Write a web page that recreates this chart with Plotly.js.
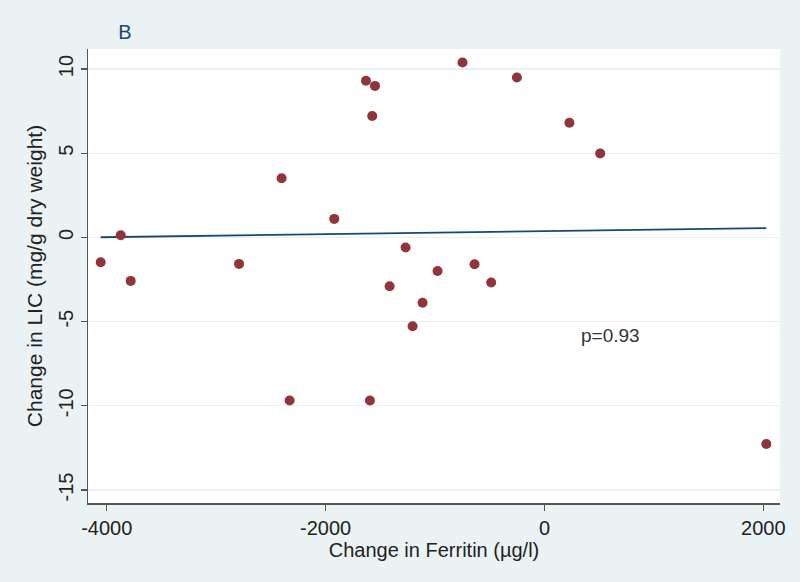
<!DOCTYPE html>
<html>
<head>
<meta charset="utf-8">
<script src="https://cdn.plot.ly/plotly-3.0.1.min.js"></script>
<style>html,body{margin:0;padding:0;background:#eaf2f3;}#chart{width:800px;height:582px;}</style>
</head>
<body>
<div id="chart"></div>
<script>
// Data
const ferritinChange = [-4055, -3872, -3781, -2791, -2402, -2329, -1921, -1631, -1549, -1574,
  -1595, -1415, -1269, -1205, -1114, -977, -749, -639, -487, -252, 228, 509, 2027];
const licChange = [-1.47, 0.13, -2.58, -1.57, 3.51, -9.68, 1.10, 9.30, 9.00, 7.21,
  -9.68, -2.90, -0.60, -5.27, -3.88, -1.99, 10.39, -1.59, -2.68, 9.50, 6.81, 4.99, -12.27];
const fitX = [-4055, 2027];
const fitY = [0.01, 0.55];
const xTicks = [-4000, -2000, 0, 2000];
const yTicks = [-15, -10, -5, 0, 5, 10];

const traces = [
  {x: fitX, y: fitY, type: 'scatter', mode: 'lines',
   line: {color: '#1a476f', width: 1.8}, hoverinfo: 'skip'},
  {x: ferritinChange, y: licChange, type: 'scatter', mode: 'markers',
   marker: {color: '#90353b', size: 10}}
];

const layout = {
  width: 800, height: 582,
  paper_bgcolor: '#eaf2f3', plot_bgcolor: '#ffffff',
  margin: {l: 88, r: 20, t: 49, b: 79},
  showlegend: false,
  font: {family: 'Liberation Sans, Arial, sans-serif', color: '#222'},
  title: {text: 'B', x: 125 / 800, xref: 'container', xanchor: 'center',
          y: 32 / 582, yref: 'container', yanchor: 'middle',
          font: {size: 20, color: '#1a476f'}},
  xaxis: {
    range: [-4171, 2152], tickvals: xTicks, ticktext: xTicks.map(String),
    showgrid: false, zeroline: false, showline: true, linecolor: '#555', linewidth: 1.5,
    ticks: 'outside', ticklen: 6, tickcolor: '#555', tickwidth: 1.2,
    tickfont: {size: 20, color: '#222'},
    title: {text: 'Change in Ferritin (µg/l)', font: {size: 20, color: '#222'}, standoff: 2}
  },
  yaxis: {
    range: [-15.77, 11.19], tickvals: yTicks, ticktext: yTicks.map(String),
    showgrid: true, gridcolor: '#eaf0f2', gridwidth: 1.2,
    zeroline: false, showline: true, linecolor: '#555', linewidth: 1.5,
    ticks: 'outside', ticklen: 6, tickcolor: '#555', tickwidth: 1.2, tickangle: -90,
    tickfont: {size: 20, color: '#222'},
    title: {text: 'Change in LIC (mg/g dry weight)', font: {size: 21, color: '#222'}, standoff: 6}
  },
  annotations: [
    {x: 600, y: -5.84, xref: 'x', yref: 'y', text: 'p=0.93', showarrow: false,
     font: {size: 19, color: '#333'}}
  ]
};
layout.title.y = 1 - 32 / 582;
Plotly.newPlot('chart', traces, layout, {displayModeBar: false, staticPlot: true});
</script>
</body>
</html>
